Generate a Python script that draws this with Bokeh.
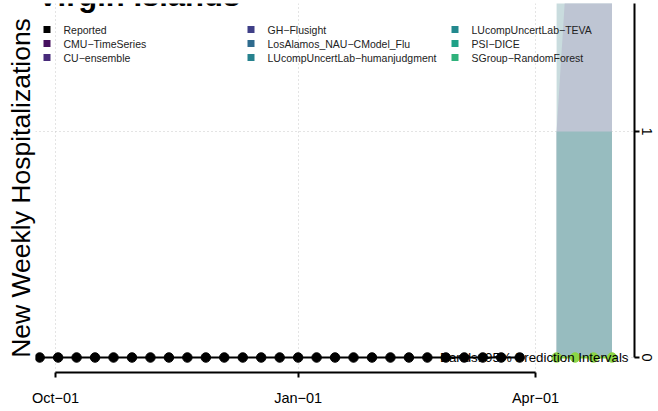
import math
from datetime import datetime, timedelta

from bokeh.plotting import figure
from bokeh.models import (Range1d, FixedTicker, DatetimeTickFormatter, Label,
                          BoxAnnotation, ColumnDataSource, LinearAxis)
from bokeh.embed import file_html
from bokeh.resources import INLINE

# ---------------- data ----------------
title_text = "Virgin Islands"
y_label = "New Weekly Hospitalizations"
note_text = "Bands: 95% Prediction Intervals"

reported_start = datetime(2021, 9, 25)
reported_dates = [reported_start + timedelta(weeks=i) for i in range(27)]
reported_values = [0] * 27

forecast_dates = [datetime(2022, 4, 9), datetime(2022, 4, 16),
                  datetime(2022, 4, 23), datetime(2022, 4, 30)]
forecast_median = [0, 0, 0, 0]

# 95% prediction interval bands (lower, upper) of the models drawn
band_names = ["LUcompUncertLab-humanjudgment", "GH-Flusight", "LUcompUncertLab-TEVA"]
band_lower = [[0, 0, 0, 0], [0, 0, 0, 0], [0, 0, 0, 0]]
band_upper = [[3, 3, 3, 3], [1, 2.3, 3, 3], [1, 1, 1, 1]]
band_fill = ["#C9DCDE", "#BEC5D3", "#97BCBF"]

legend_names = ["Reported", "CMU\u2212TimeSeries", "CU\u2212ensemble",
                "GH\u2212Flusight", "LosAlamos_NAU\u2212CModel_Flu",
                "LUcompUncertLab\u2212humanjudgment",
                "LUcompUncertLab\u2212TEVA", "PSI\u2212DICE", "SGroup\u2212RandomForest"]
legend_colors = ["#000000", "#46105F", "#472A7A", "#3F3F87", "#2F6B8E",
                 "#26828E", "#23898E", "#1FA187", "#2FB27B"]

x_ticks = [datetime(2021, 10, 1), datetime(2022, 1, 1), datetime(2022, 4, 1)]
y_ticks = [0, 1]

FONT = "Liberation Sans"

# ---------------- layout ----------------
W, H = 658, 411
FL, FR, FT, FB = 35, 634, 3, 372          # frame edges in canvas px
px_per_day = (535 - 55) / 182.0
x0 = x_ticks[0] - timedelta(days=(55 - FL) / px_per_day)
x1 = x_ticks[0] + timedelta(days=(FR - 55) / px_per_day)
px_per_unit = 226.0
y0 = -(FB - 357) / px_per_unit
y1 = (357 - FT) / px_per_unit

p = figure(width=W, height=H, output_backend="svg", toolbar_location=None,
           x_axis_type="datetime", y_axis_location="right",
           x_range=Range1d(x0, x1), y_range=Range1d(y0, y1),
           min_border_left=FL, min_border_right=W - FR,
           min_border_top=FT, min_border_bottom=H - FB)
p.outline_line_color = None
p.background_fill_color = "white"
p.border_fill_color = "white"

def ms(d):
    return (d - datetime(1970, 1, 1)).total_seconds() * 1000.0

# x axis
xa = p.xaxis[0]
xa.ticker = FixedTicker(ticks=[ms(d) for d in x_ticks])
fmt = "%b\u2212%d"
xa.formatter = DatetimeTickFormatter(days=fmt, months=fmt, years=fmt, hours=fmt,
                                     minutes=fmt, seconds=fmt, milliseconds=fmt,
                                     microseconds=fmt, minsec=fmt, hourmin=fmt)
xa.bounds = (ms(x_ticks[0]), ms(x_ticks[-1]))
xa.axis_line_width = 2
xa.axis_line_color = "black"
xa.major_tick_line_width = 2
xa.major_tick_in = 0
xa.major_tick_out = 5
xa.minor_tick_line_color = None
xa.major_label_text_font = FONT
xa.major_label_text_font_size = "14.5px"
xa.major_label_text_color = "black"
xa.major_label_standoff = 12

# right y axis
ya = p.yaxis[0]
ya.ticker = FixedTicker(ticks=y_ticks)
ya.bounds = (0, y1)
ya.axis_line_width = 2
ya.axis_line_color = "black"
ya.major_tick_line_width = 2
ya.major_tick_in = 0
ya.major_tick_out = 5
ya.minor_tick_line_color = None
ya.major_label_orientation = "vertical"
ya.major_label_text_font = FONT
ya.major_label_text_font_size = "14.5px"
ya.major_label_text_color = "black"
ya.major_label_standoff = 2

# left axis only carries the y title
la = LinearAxis(ticker=FixedTicker(ticks=[]), axis_label=y_label,
                axis_line_color=None, major_tick_line_color=None,
                minor_tick_line_color=None, major_label_text_font_size="0px",
                major_label_standoff=0, axis_label_standoff=0,
                axis_label_text_font=FONT, axis_label_text_font_size="26.5px",
                axis_label_text_font_style="normal", axis_label_text_color="black")
p.add_layout(la, "left")

for g in (p.xgrid[0], p.ygrid[0]):
    g.grid_line_color = "#C8C8C8"
    g.grid_line_dash = "1 3"
    g.grid_line_width = 1
p.xgrid[0].ticker = xa.ticker
p.ygrid[0].ticker = ya.ticker

# bands
for lo, up, col in zip(band_lower, band_upper, band_fill):
    xs = [ms(d) for d in forecast_dates] + [ms(d) for d in forecast_dates[::-1]]
    ys = list(up) + list(lo[::-1])
    p.patch(xs, ys, fill_color=col, fill_alpha=1.0, line_color=None)

# reported series
src = ColumnDataSource(dict(x=reported_dates, y=reported_values))
p.line("x", "y", source=src, line_color="black", line_width=2)
p.scatter("x", "y", source=src, size=9.5, fill_color="black", line_color="black")

# forecast medians
fsrc = ColumnDataSource(dict(x=forecast_dates, y=forecast_median))
p.line("x", "y", source=fsrc, line_color="#8CD645", line_width=2)
p.scatter("x", "y", source=fsrc, size=9.5, fill_color="#8CD645", line_color="#8CD645")

# texts
p.add_layout(Label(x=628, y=357, x_units="canvas", y_units="canvas", text=note_text,
                   text_align="right", text_baseline="middle", text_font=FONT,
                   text_font_size="13.3px", text_color="black"))
p.add_layout(Label(x=37, y=-5, x_units="canvas", y_units="canvas", text=title_text,
                   text_align="left", text_baseline="middle", text_font=FONT,
                   text_font_size="31px", text_font_style="bold", text_color="black"))

# legend
for i, (name, col) in enumerate(zip(legend_names, legend_colors)):
    c, r = divmod(i, 3)
    cx = 43 + 204 * c
    cy = 29 + 14 * r
    p.add_layout(BoxAnnotation(left=cx, right=cx + 7, top=cy - 3.5, bottom=cy + 3.5,
                               left_units="canvas", right_units="canvas",
                               top_units="canvas", bottom_units="canvas",
                               fill_color=col, fill_alpha=1.0, line_color=None))
    p.add_layout(Label(x=cx + 20, y=cy, x_units="canvas", y_units="canvas", text=name,
                       text_align="left", text_baseline="middle", text_font=FONT,
                       text_font_size="10.5px", text_color="#222222"))

open("out.html", "w").write(file_html(p, INLINE))
